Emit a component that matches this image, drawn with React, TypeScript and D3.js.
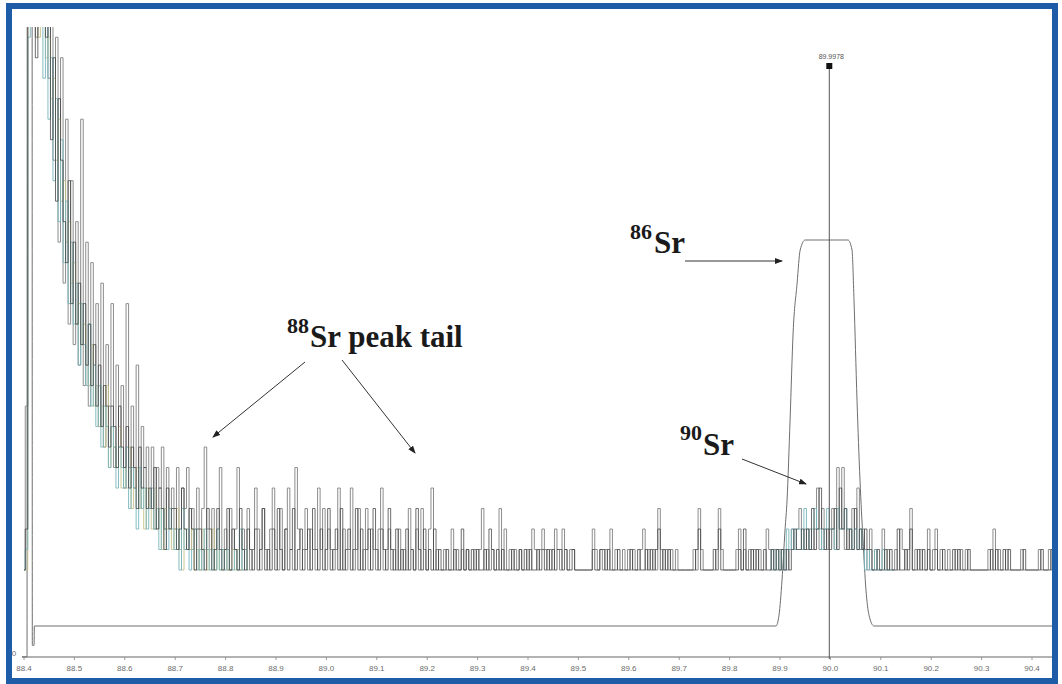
import React from "react";
import * as d3 from "d3";

const WIDTH = 1062;
const HEIGHT = 684;

// mass axis
const MASS_TICKS = [88.4, 88.5, 88.6, 88.7, 88.8, 88.9, 89.0, 89.1, 89.2, 89.3, 89.4, 89.5, 89.6, 89.7, 89.8, 89.9, 90.0, 90.1, 90.2, 90.3, 90.4];
const TICK_LABELS = ["88.4", "88.5", "88.6", "88.7", "88.8", "88.9", "89.0", "89.1", "89.2", "89.3", "89.4", "89.5", "89.6", "89.7", "89.8", "89.9", "90.0", "90.1", "90.2", "90.3", "90.4"];

// channel grid of the mass scan
const CHANNEL_START = 88.4;
const CHANNEL_STEP = 0.005;

// counts per channel, scan 1 (grey)
const SCAN_A = [
  0, 8, 30, 29, 27, 26, 28, 30, 27, 29,
  24, 27, 20, 26, 16, 25, 14, 22, 12, 19,
  11, 17, 10, 22, 9, 16, 8, 15, 10, 13,
  7, 14, 6, 11, 8, 13, 5, 10, 6, 9,
  4, 13, 5, 8, 4, 10, 3, 7, 5, 6,
  3, 6, 2, 5, 4, 6, 2, 5, 3, 4,
  2, 5, 1, 4, 3, 5, 1, 3, 2, 4,
  0, 3, 6, 2, 1, 3, 0, 2, 5, 1,
  2, 0, 3, 1, 2, 5, 0, 2, 1, 3,
  0, 1, 4, 2, 0, 3, 1, 0, 2, 4,
  1, 0, 3, 0, 2, 4, 1, 0, 5, 2,
  0, 1, 3, 0, 2, 1, 0, 4, 1, 3,
  0, 2, 1, 0, 1, 4, 0, 2, 0, 1,
  4, 0, 1, 3, 0, 1, 3, 0, 2, 1,
  0, 2, 4, 0, 1, 2, 0, 1, 0, 2,
  0, 1, 0, 3, 1, 0, 2, 0, 3, 1,
  0, 2, 4, 0, 1, 0, 0, 1, 0, 0,
  2, 0, 1, 0, 1, 0, 1, 0, 0, 1,
  0, 1, 3, 0, 1, 0, 1, 0, 0, 3,
  0, 2, 0, 1, 0, 1, 0, 1, 0, 0,
  1, 0, 2, 1, 0, 1, 2, 1, 0, 1,
  0, 2, 1, 0, 2, 1, 0, 1, 1, 0,
  0, 0, 0, 0, 0, 0, 2, 1, 0, 1,
  0, 1, 0, 2, 0, 1, 0, 0, 1, 0,
  1, 0, 1, 0, 0, 1, 2, 0, 1, 0,
  1, 0, 3, 1, 0, 1, 0, 1, 0, 1,
  0, 0, 0, 0, 0, 0, 1, 0, 3, 1,
  0, 0, 0, 0, 0, 1, 3, 1, 0, 0,
  0, 0, 0, 1, 2, 0, 1, 0, 1, 0,
  1, 0, 1, 0, 0, 2, 1, 0, 1, 0,
  1, 0, 1, 0, 1, 2, 1, 2, 3, 1,
  2, 1, 2, 1, 2, 4, 1, 3, 2, 1,
  2, 3, 1, 5, 2, 5, 1, 2, 1, 3,
  2, 4, 1, 2, 1, 0, 2, 0, 1, 0,
  0, 2, 0, 1, 0, 0, 1, 0, 2, 1,
  0, 1, 3, 0, 1, 0, 1, 0, 0, 2,
  0, 1, 2, 0, 1, 0, 0, 1, 0, 0,
  1, 0, 1, 0, 1, 0, 0, 0, 0, 0,
  0, 0, 0, 1, 0, 2, 0, 1, 0, 0,
  1, 0, 0, 0, 0, 0, 1, 0, 0, 0,
  0, 0, 0, 1, 0, 0, 0, 1, 0, 0,
];

// counts per channel, scan 2 (dark)
const SCAN_B = [
  0, 2, 27, 30, 30, 25, 30, 28, 30, 26,
  27, 21, 25, 18, 23, 20, 17, 15, 19, 13,
  16, 12, 14, 11, 13, 10, 12, 9, 11, 8,
  10, 7, 9, 8, 6, 8, 7, 5, 8, 6,
  5, 7, 4, 6, 5, 3, 6, 4, 5, 3,
  4, 3, 5, 2, 4, 3, 1, 4, 2, 3,
  3, 1, 2, 4, 2, 1, 3, 2, 0, 2,
  2, 1, 0, 3, 2, 0, 1, 3, 1, 0,
  1, 3, 0, 2, 1, 0, 3, 1, 0, 2,
  1, 0, 2, 0, 1, 3, 0, 1, 0, 2,
  0, 3, 1, 0, 2, 0, 1, 3, 0, 1,
  2, 0, 1, 2, 0, 3, 1, 0, 2, 0,
  1, 3, 0, 1, 2, 0, 3, 0, 1, 2,
  0, 1, 3, 0, 2, 0, 1, 2, 0, 3,
  1, 0, 2, 1, 0, 3, 1, 0, 2, 0,
  1, 0, 2, 0, 1, 0, 3, 1, 0, 2,
  0, 1, 0, 2, 0, 1, 0, 0, 1, 0,
  0, 1, 0, 0, 2, 0, 1, 0, 1, 0,
  1, 0, 0, 1, 0, 2, 1, 0, 1, 0,
  1, 0, 0, 0, 1, 0, 0, 1, 0, 1,
  0, 1, 0, 0, 1, 0, 1, 0, 1, 0,
  1, 0, 1, 1, 0, 1, 0, 0, 1, 0,
  0, 0, 0, 0, 0, 0, 1, 0, 0, 1,
  1, 0, 1, 0, 0, 0, 1, 0, 0, 0,
  0, 1, 0, 0, 1, 0, 0, 1, 0, 1,
  0, 1, 2, 0, 1, 0, 1, 0, 0, 0,
  0, 0, 0, 0, 0, 0, 0, 1, 2, 0,
  0, 0, 0, 0, 1, 0, 2, 0, 0, 0,
  0, 0, 0, 0, 1, 0, 2, 0, 0, 1,
  0, 1, 0, 0, 1, 0, 0, 1, 0, 1,
  0, 1, 0, 1, 0, 1, 2, 1, 1, 2,
  1, 2, 1, 3, 1, 2, 4, 2, 1, 2,
  1, 2, 3, 1, 4, 2, 3, 1, 2, 1,
  3, 1, 2, 1, 2, 1, 1, 0, 0, 1,
  0, 0, 1, 0, 1, 0, 0, 2, 0, 0,
  1, 0, 2, 0, 0, 1, 0, 1, 0, 1,
  0, 0, 1, 0, 0, 1, 0, 0, 0, 1,
  0, 1, 0, 0, 0, 1, 0, 0, 0, 0,
  0, 0, 0, 0, 1, 0, 1, 0, 0, 1,
  0, 1, 0, 0, 0, 0, 0, 1, 0, 0,
  0, 0, 0, 0, 1, 0, 0, 0, 1, 0,
];

// scan 3 (teal), two stretches
const SCAN_C_LEFT_START = 88.4;
const SCAN_C_LEFT = [
  0, 1, 26, 30, 28, 27, 29, 30, 24, 28,
  22, 25, 19, 23, 17, 21, 15, 18, 13, 16,
  12, 14, 10, 13, 11, 9, 12, 8, 10, 7,
  9, 6, 8, 7, 5, 7, 6, 4, 6, 5,
  4, 6, 3, 5, 4, 2, 5, 3, 4, 2,
  3, 4, 2, 3, 1, 3, 2, 1, 3, 2,
  1, 2, 0, 3, 1, 2, 0, 1, 2, 0,
  1, 0, 2, 1, 0, 1, 0, 2, 0, 1,
  0, 1, 0, 0, 1, 0, 2, 0, 1, 0,
];
const SCAN_C_RIGHT_START = 89.88;
const SCAN_C_RIGHT = [
  0, 1, 0, 1, 0, 1, 0, 2, 1, 2,
  1, 2, 2, 1, 3, 2, 1, 2, 3, 2,
  2, 1, 2, 3, 2, 2, 1, 3, 2, 2,
  3, 2, 2, 1, 2, 1, 2, 1, 0, 1,
  0, 0, 1, 0, 0, 1, 0, 0, 0, 0,
];

// scan 4 (khaki), tail region only
const SCAN_D_START = 88.4;
const SCAN_D = [
  0, 0, 28, 30, 29, 30, 26, 29, 28, 25,
  26, 23, 24, 20, 22, 18, 19, 16, 17, 14,
  15, 12, 13, 11, 12, 10, 9, 11, 8, 9,
  7, 8, 6, 9, 5, 7, 6, 5, 7, 4,
  5, 4, 6, 3, 4, 5, 3, 4, 2, 4,
  3, 2, 4, 2, 3, 1, 3, 2, 2, 1,
  2, 3, 1, 0, 2, 1, 1, 2, 0, 1,
  0, 2, 1, 0, 1, 2, 0, 1, 0, 0,
  1, 0, 0, 1, 0, 1, 0, 0, 1, 0,
];

// 86Sr reference trace (relative intensity, % of plateau)
const SR86_MASS = [88.396, 88.406, 88.4065, 88.416, 88.4165, 88.42, 88.4205, 89.892, 89.898, 89.904, 89.91, 89.914, 89.92, 89.926, 89.934, 89.94, 89.95, 89.99, 90.0349, 90.0429, 90.0468, 90.0528, 90.0587, 90.0647, 90.0706, 90.0766, 90.0865, 90.446];
const SR86_INT = [-8, -8, 200, 200, -5, -5, 0, 0, 2.8, 11.9, 24.9, 32.6, 53.4, 75.9, 88.9, 97.4, 100, 100, 100, 97.4, 84.5, 58.5, 37.8, 22.3, 9.3, 2.8, 0, 0];

const CURSOR_MASS = 89.9978;
const CURSOR_LABEL = "89.9978";

const x = d3.scaleLinear().domain([88.4, 90.4]).range([24, 1032]);
const countY = d3.scaleLinear().domain([0, 26.5]).range([570, 27]);
const peakY = d3.scaleLinear().domain([0, 100]).range([626, 240]);
const AXIS_Y = 657;

const scanPath = (values: number[], start: number) =>
  d3
    .line<number>()
    .x((_, i) => x(start + i * CHANNEL_STEP))
    .y((d) => countY(d))
    .curve(d3.curveStep)(values) || "";

const sr86Path =
  d3
    .line<number>()
    .x((d) => x(d))
    .y((_, i) => peakY(SR86_INT[i]))
    .curve(d3.curveMonotoneX)(SR86_MASS) || "";

const serif = "'Liberation Serif', 'Times New Roman', serif";
const sans = "'Liberation Sans', Arial, sans-serif";

export default function App() {
  const cx = x(CURSOR_MASS);
  return (
    <svg
      width={WIDTH}
      height={HEIGHT}
      style={{ position: "fixed", left: 0, top: 0, background: "#fff" }}
    >
      <defs>
        <clipPath id="plot">
          <rect x={20} y={27} width={1036} height={636} />
        </clipPath>
        <marker id="arr" viewBox="0 0 8 6" refX={7} refY={3} markerWidth={8} markerHeight={6} orient="auto" markerUnits="userSpaceOnUse">
          <path d="M0,0 L8,3 L0,6 Z" fill="#222" />
        </marker>
      </defs>

      <rect x={0} y={0} width={WIDTH} height={HEIGHT} fill="#fff" />

      {/* axis */}
      <line x1={22} x2={1054} y1={AXIS_Y} y2={AXIS_Y} stroke="#666" strokeWidth={1} />
      {MASS_TICKS.map((t, i) => (
        <g key={t}>
          <line x1={x(t)} x2={x(t)} y1={AXIS_Y} y2={AXIS_Y + 3} stroke="#999" />
          <text x={x(t)} y={671} fontSize={8} fontFamily={sans} fill="#6c6c6c" textAnchor="middle">
            {TICK_LABELS[i]}
          </text>
        </g>
      ))}
      <text x={14} y={656} fontSize={8} fontFamily={sans} fill="#6c6c6c" textAnchor="middle">0</text>

      <g clipPath="url(#plot)" fill="none" strokeWidth={1}>
        <path d={sr86Path} stroke="#6e6e6e" />
        <path d={scanPath(SCAN_A, CHANNEL_START)} stroke="#8d8d8d" />
        <path d={scanPath(SCAN_D, SCAN_D_START)} stroke="#c6c08a" strokeOpacity={0.9} />
        <path d={scanPath(SCAN_C_LEFT, SCAN_C_LEFT_START)} stroke="#78b6bd" strokeOpacity={0.9} />
        <path d={scanPath(SCAN_C_RIGHT, SCAN_C_RIGHT_START)} stroke="#78b6bd" strokeOpacity={0.9} />
        <path d={scanPath(SCAN_B, CHANNEL_START)} stroke="#3e3e3e" strokeOpacity={0.75} />
      </g>

      {/* cursor */}
      <line x1={cx} x2={cx} y1={66} y2={AXIS_Y + 2} stroke="#555" strokeWidth={1} />
      <rect x={cx - 3} y={63} width={6} height={6} fill="#111" />
      <text x={cx + 2} y={59} fontSize={7} fontFamily={sans} fill="#555" textAnchor="middle">{CURSOR_LABEL}</text>

      {/* annotations */}
      <g fontFamily={serif} fontWeight="bold" fill="#1a1a1a">
        <text x={287} y={333} fontSize={22}>88</text>
        <text x={310} y={347} fontSize={31}>Sr peak tail</text>
        <text x={630} y={239} fontSize={22}>86</text>
        <text x={654} y={253} fontSize={31}>Sr</text>
        <text x={680} y={440} fontSize={22}>90</text>
        <text x={703} y={455} fontSize={31}>Sr</text>
      </g>
      <g stroke="#333" strokeWidth={1}>
        <line x1={305} y1={362} x2={213} y2={437} markerEnd="url(#arr)" />
        <line x1={342} y1={360} x2={415} y2={453} markerEnd="url(#arr)" />
        <line x1={685} y1={261} x2={782} y2={261} markerEnd="url(#arr)" />
        <line x1={742} y1={459} x2={806} y2={484} markerEnd="url(#arr)" />
      </g>

      {/* frame */}
      <rect x={9} y={6} width={1046} height={675} fill="none" stroke="#1f5ca8" strokeWidth={6} />
    </svg>
  );
}
